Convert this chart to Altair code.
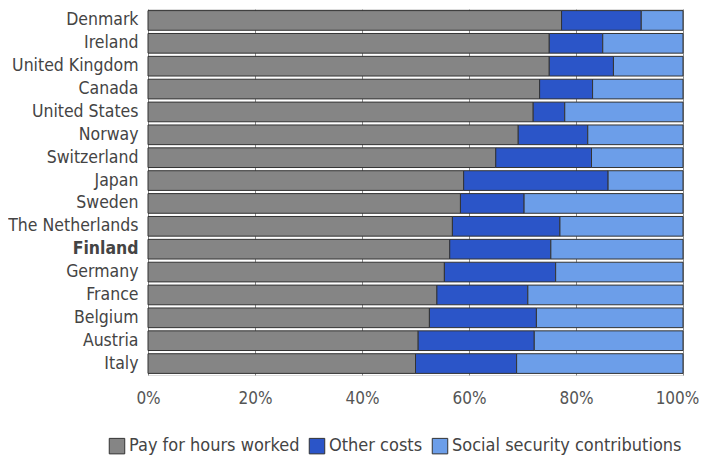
import altair as alt
import pandas as pd

countries = ["Denmark", "Ireland", "United Kingdom", "Canada", "United States", "Norway",
             "Switzerland", "Japan", "Sweden", "The Netherlands", "Finland", "Germany",
             "France", "Belgium", "Austria", "Italy"]
pay = [77.3, 75.0, 75.0, 73.2, 72.0, 69.2, 65.0, 59.0, 58.4, 56.9, 56.4, 55.4, 54.0, 52.6, 50.5, 50.0]
other = [14.9, 10.0, 12.0, 9.9, 5.9, 13.0, 17.9, 27.0, 11.9, 20.1, 18.9, 20.8, 17.0, 20.0, 21.7, 18.9]
social = [round(100 - p - o, 1) for p, o in zip(pay, other)]

series = ["Pay for hours worked", "Other costs", "Social security contributions"]
colors = ["#858585", "#2b55c8", "#6c9ee9"]

rows = []
for c, p, o, s in zip(countries, pay, other, social):
    for i, (name, v) in enumerate(zip(series, [p, o, s])):
        rows.append({"country": c, "series": name, "value": v / 100, "order": i})
df = pd.DataFrame(rows)

font = "DejaVu Sans Condensed"
txt = "#444444"

chart = alt.Chart(df).mark_bar(stroke="#333333", strokeWidth=1).encode(
    y=alt.Y("country:N", sort=countries, title=None,
            scale=alt.Scale(paddingInner=0.14, paddingOuter=0.07),
            axis=alt.Axis(labelFontSize=17.5, labelFont=font, labelColor=txt,
                          ticks=False, domain=False, labelPadding=10,
                          labelFontWeight=alt.expr("datum.value == 'Finland' ? 'bold' : 'normal'"))),
    x=alt.X("value:Q", stack="zero", title=None,
            scale=alt.Scale(domain=[0, 1], nice=False),
            axis=alt.Axis(format="%", values=[0, 0.2, 0.4, 0.6, 0.8, 1.0], labelFontSize=17,
                          labelFont=font, labelColor="#555555", ticks=False, domain=False,
                          labelPadding=15, grid=True, gridColor="#888888", gridWidth=1,
                          labelFlush=False,
                          labelOffset=alt.expr("datum.value == 1 ? -6 : 0"))),
    color=alt.Color("series:N", sort=series,
                    scale=alt.Scale(domain=series, range=colors),
                    legend=alt.Legend(title=None, orient="none", direction="horizontal",
                                      legendX=-40, legendY=428, symbolType="square",
                                      symbolSize=240, symbolStrokeColor="#333333",
                                      symbolStrokeWidth=1, labelFontSize=18, labelFont=font,
                                      labelColor=txt, columnPadding=7, labelOffset=3,
                                      labelLimit=400)),
    order=alt.Order("order:Q"),
).properties(
    width=535, height=366,
    autosize=alt.AutoSizeParams(type="none"),
    padding={"left": 140, "top": 1, "right": 16, "bottom": 80},
).configure_view(stroke="#555555", strokeWidth=1.5).configure(background="white")

chart.save("out.html", embed_options={"renderer": "svg", "actions": False})
